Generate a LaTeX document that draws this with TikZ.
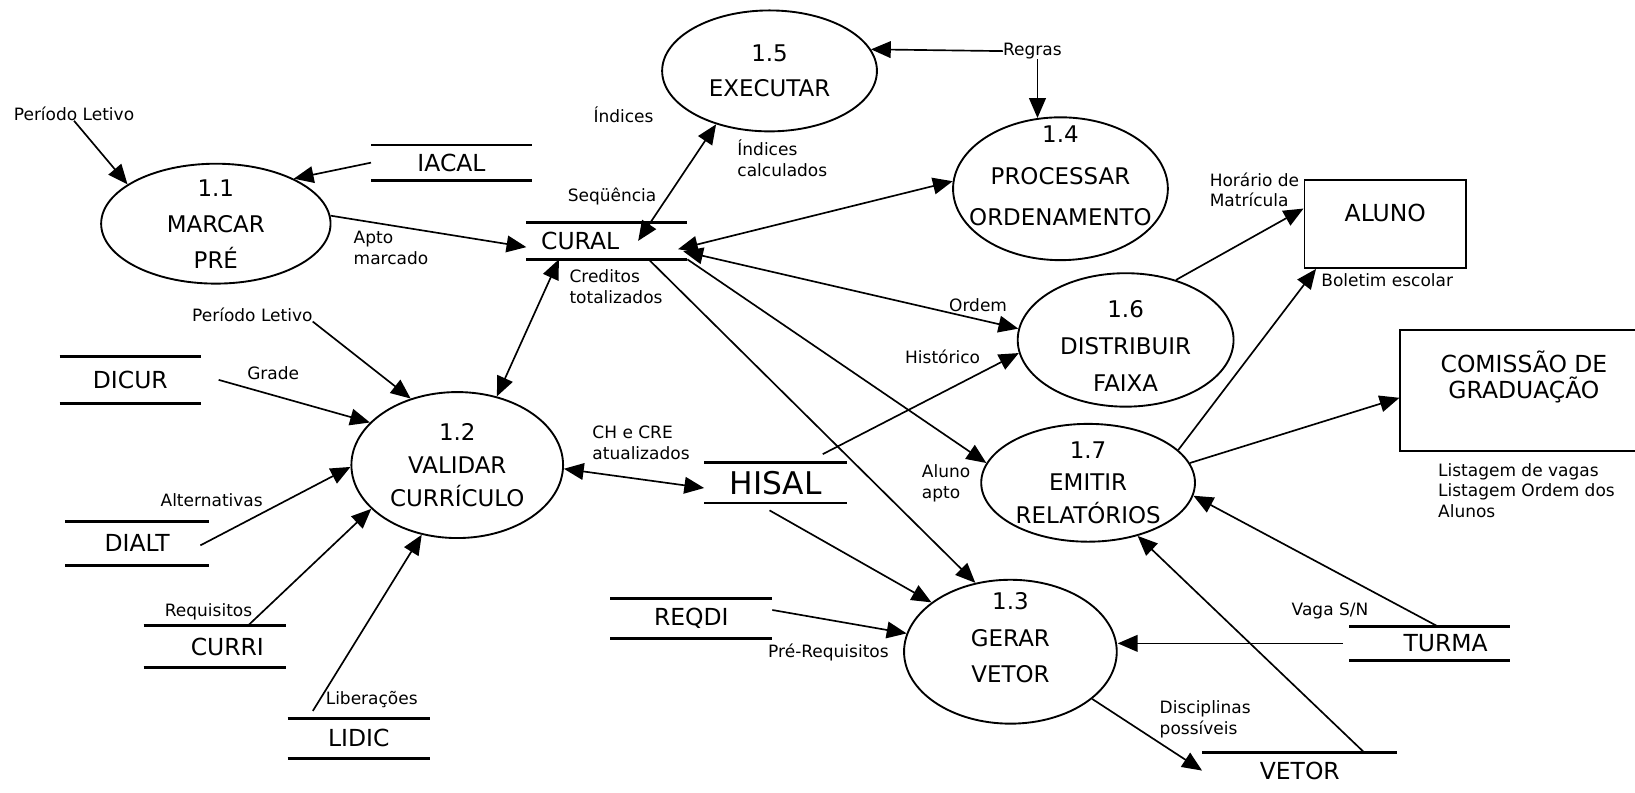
\documentclass[tikz,border=0pt]{standalone}
\usepackage{fontspec}
\setmainfont{DejaVu Sans}
\usetikzlibrary{shapes.geometric,arrows.meta}

\begin{document}
\begin{tikzpicture}[x=1pt, y=-1pt,
    proc/.style={ellipse, draw, line width=1.8pt, inner xsep=-20pt, inner ysep=-15pt,
                 align=center, font=\fontsize{22}{#1}\selectfont},
    ent/.style={rectangle, draw, line width=1.8pt, align=center, font=\fontsize{22.5}{25}\selectfont},
    store/.style={inner sep=0pt, font=\fontsize{22.5}{25}\selectfont},
    storeline/.style={line width=2.6pt},
    lbl/.style={inner sep=0pt, align=left, font=\fontsize{16.3}{20}\selectfont},
    flow/.style={-{Triangle[length=19pt,width=16pt]}, line width=1.6pt},
    bi/.style={{Triangle[length=19pt,width=16pt]}-{Triangle[length=19pt,width=16pt]}, line width=1.6pt}]
  \useasboundingbox (0,0) rectangle (1568,760);

  \node [proc=34.5, minimum width=220pt, minimum height=115pt] (p11) at (207,214.5) {1.1\\MARCAR\\PRÉ};
  \node [proc=33, minimum width=206pt, minimum height=116pt] (p15) at (738,68) {1.5\\EXECUTAR};
  \node [proc=40, minimum width=206pt, minimum height=137pt] (p14) at (1017,181) {1.4\\PROCESSAR\\ORDENAMENTO\\[-15pt]\mbox{}};
  \node [proc=35.5, minimum width=207pt, minimum height=128pt] (p16) at (1079.5,326) {\mbox{}\\[-7.5pt]1.6\\DISTRIBUIR\\FAIXA};
  \node [proc=31, minimum width=205pt, minimum height=113pt] (p17) at (1043.5,463) {1.7\\EMITIR\\RELATÓRIOS};
  \node [proc=32, minimum width=203pt, minimum height=140pt] (p12) at (438.5,446) {1.2\\VALIDAR\\CURRÍCULO};
  \node [proc=35, minimum width=204pt, minimum height=138pt] (p13) at (969,625) {1.3\\GERAR\\VETOR\\[-8pt]\mbox{}};

  \node [ent, minimum width=155pt, minimum height=84pt, text height=16pt, text depth=22pt] (aluno) at (1328.5,215) {ALUNO};
  \node [ent, minimum width=237pt, minimum height=116pt] (comissao) at (1461.5,374.5) {COMISSÃO DE\\GRADUAÇÃO\\[6pt]\mbox{}};

  \node [store, minimum width=154pt, minimum height=33.6pt] (iacal) at (433,156) {IACAL};
  \node [store, minimum height=35pt, inner xsep=14pt, text width=126pt, align=left] (cural) at (582,231) {CURAL};
  \node [store, minimum width=135pt, minimum height=44.7pt] (dicur) at (125,364.3) {DICUR};
  \node [store, minimum width=137pt, minimum height=42pt] (dialt) at (131.5,521) {DIALT};
  \node [store, minimum height=40pt, inner xsep=45pt, text width=46pt, align=left] (curri) at (206,620) {\mbox{CURRI}};
  \node [store, minimum width=136pt, minimum height=38pt] (lidic) at (344,708) {LIDIC};
  \node [store, minimum width=137pt, minimum height=38.5pt, font=\fontsize{30}{32}\selectfont] (hisal) at (744,463) {HISAL};
  \node [store, minimum width=155pt, minimum height=38pt] (reqdi) at (663,593) {REQDI};
  \node [store, minimum height=32pt, inner xsep=52pt, text width=50pt, align=left] (turma) at (1371,617) {\mbox{TURMA}};
  \node [store, minimum width=187pt, minimum height=34pt] (vetor) at (1246.5,739) {VETOR};

  \foreach \s in {iacal,cural,dicur,dialt,curri,lidic,hisal,reqdi,turma}
    \draw [storeline] (\s.north west) -- (\s.north east) (\s.south west) -- (\s.south east);
  \draw [storeline] (vetor.north west) -- (vetor.north east);

  \node [lbl] (lp1) at (71,109) {Período Letivo};
  \node [lbl] (lind) at (598,110) {Índices};
  \node [lbl, anchor=west] (lindc) at (707,151.5) {Índices\\calculados};
  \node [lbl] (lreg) at (990,49) {Regras};
  \node [lbl] (lseq) at (587,188) {Seqüência};
  \node [lbl, anchor=west] (lapto) at (339,237.5) {Apto\\marcado};
  \node [lbl, anchor=west] (lcred) at (546,275) {Creditos\\totalizados};
  \node [lbl, anchor=west] (lhor) at (1160,182) {Horário de\\Matrícula};
  \node [lbl, anchor=west] (lbol) at (1267,268.5) {Boletim escolar};
  \node [lbl] (lord) at (938,292.5) {Ordem};
  \node [lbl] (lhist) at (904,342) {Histórico};
  \node [lbl] (lp2) at (242,301.5) {Período Letivo};
  \node [lbl] (lgrade) at (262,358) {Grade};
  \node [lbl, anchor=west] (lch) at (568,425) {CH e CRE\\atualizados};
  \node [lbl, anchor=west] (lapt) at (884,463.5) {Aluno\\apto};
  \node [lbl, anchor=west] (llist) at (1379,470.5) {Listagem de vagas\\Listagem Ordem dos\\Alunos};
  \node [lbl] (lalt) at (203,480) {Alternativas};
  \node [lbl] (lreq) at (200,586.5) {Requisitos};
  \node [lbl] (llib) at (356.5,671) {Liberações};
  \node [lbl] (lpre) at (794.5,625.5) {Pré-Requisitos};
  \node [lbl] (lvaga) at (1275.5,586) {Vaga S/N};
  \node [lbl, anchor=west] (ldisc) at (1112,690) {Disciplinas\\possíveis};

  \draw [flow] (lp1.south) -- (p11.156);
  \draw [flow] (iacal.west) -- (p11.30);
  \draw [flow] (p11.4) -- ([yshift=-6pt]cural.west);
  \draw [flow] (lreg.west) -- (p15.12);
  \draw [flow] (lreg.south -| p14.108) -- (p14.108);
  \draw [bi] ([xshift=30pt]cural.center) -- (p15.225);
  \draw [bi] ([shift={(-9pt,-8pt)}]cural.east) -- (p14.176);
  \draw [bi] ([xshift=-46pt]cural.south) -- (p12.60);
  \draw [bi] ([shift={(-4pt,-10pt)}]cural.east) -- (p16.174);
  \draw [flow] (cural.south east) -- (p17.169);
  \draw [flow] ([xshift=40pt]cural.south) -- (p13.117);
  \draw [flow] (lp2.south east) -- (p12.125);
  \draw [flow] ([xshift=17pt]dicur.east) -- (p12.154);
  \draw [flow] ([shift={(-8pt,-2pt)}]dialt.east) -- (p12.181);
  \draw [flow] ([xshift=32pt]curri.north) -- (p12.207);
  \draw [flow] ([shift={(-44pt,7pt)}]lidic.north) -- (p12.243);
  \draw [bi] (p12.-2) -- ([yshift=-5pt]hisal.west);
  \draw [flow] ([shift={(45pt,8pt)}]hisal.north) -- (p16.187);
  \draw [flow] ([shift={(-6pt,-7pt)}]hisal.south) -- (p13.148);
  \draw [flow] ([yshift=8pt]reqdi.east) -- (p13.170);
  \draw [flow] ([xshift=-6pt]turma.west) -- (turma.west -| p13.east);
  \draw [flow] ([xshift=8pt]turma.north) -- (p17.-7);
  \draw [flow] ([xshift=62pt]vetor.north) -- (p17.-47);
  \draw [flow] (p13.-30) -- (vetor.west);
  \draw [flow] (p16.50) -- ([yshift=15pt]aluno.west);
  \draw [flow] (p17.20) -- ([xshift=12pt]aluno.south west);
  \draw [flow] (p17.11) -- ([yshift=-7pt]comissao.west);
\end{tikzpicture}
\end{document}
